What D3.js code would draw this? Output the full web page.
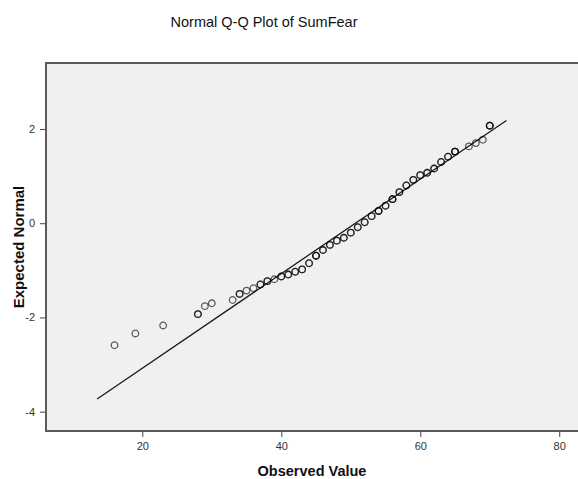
<!DOCTYPE html>
<html>
<head>
<meta charset="utf-8">
<script src="https://cdn.jsdelivr.net/npm/d3@7"></script>
<style>
body { margin: 0; background: #fff; }
text { font-family: "Liberation Sans", Arial, sans-serif; }
</style>
</head>
<body>
<svg id="chart" width="578" height="479"></svg>
<script>
var observed = [16, 19, 23, 28, 29, 30, 33, 34, 35, 36, 37, 38, 39, 40, 41, 42, 43, 44, 45, 46, 47, 48,
    49, 50, 51, 52, 53, 54, 55, 56, 57, 58, 59, 60, 61, 62, 63, 64, 65, 67, 68, 69, 70]
var expected = [-2.59, -2.34, -2.17, -1.93, -1.76, -1.70, -1.63, -1.50, -1.43, -1.38, -1.30, -1.23, -1.19,
    -1.13, -1.09, -1.03, -0.98, -0.85, -0.69, -0.57, -0.46, -0.37, -0.31, -0.20, -0.085, 0.02, 0.15, 0.26,
    0.37, 0.51, 0.66, 0.80, 0.92, 1.02, 1.07, 1.16, 1.30, 1.41, 1.52, 1.63, 1.70, 1.77, 2.07]
// cases sharing the same value, drawn on top of each other
var cases = [1, 1, 1, 2, 1, 1, 1, 2, 1, 1, 2, 2, 1, 2, 2, 2, 2, 2, 3, 2, 2, 2, 2, 2, 2, 2, 2, 3, 2, 3, 2,
    2, 2, 2, 2, 2, 2, 2, 3, 1, 1, 1, 3]
var lineX = [13.5, 72.4]
var lineY = [-3.73, 2.18]
var xTicks = [20, 40, 60, 80]
var yTicks = [-4, -2, 0, 2]

var layout = { left: 46, right: 578, top: 63, bottom: 431 }

var svg = d3.select('#chart')

var x = d3.scaleLinear().domain([6.14, 82.7]).range([layout.left, layout.right])
var y = d3.scaleLinear().domain([-4.41, 3.40]).range([layout.bottom, layout.top])

svg.append('text')
    .attr('x', 264)
    .attr('y', 27)
    .attr('text-anchor', 'middle')
    .attr('font-size', 14.5)
    .attr('fill', '#111')
    .text('Normal Q-Q Plot of SumFear')

svg.append('rect')
    .attr('x', layout.left)
    .attr('y', layout.top)
    .attr('width', layout.right - layout.left)
    .attr('height', layout.bottom - layout.top)
    .attr('fill', '#f0f0f0')

var plainFormat = function (d) { return String(d) } // keep the ascii hyphen

var xAxis = svg.append('g')
    .attr('transform', 'translate(0, ' + layout.bottom + ')')
    .call(d3.axisBottom(x).tickValues(xTicks).tickFormat(plainFormat).tickSize(6).tickPadding(5).tickSizeOuter(0))

var yAxis = svg.append('g')
    .attr('transform', 'translate(' + layout.left + ', 0)')
    .call(d3.axisLeft(y).tickValues(yTicks).tickFormat(plainFormat).tickSize(6).tickPadding(5).tickSizeOuter(0))

;[xAxis, yAxis].forEach(function (axis) {
    axis.select('.domain').remove()
    axis.attr('font-family', null)
    axis.selectAll('.tick line').attr('stroke', '#444')
    axis.selectAll('.tick text').attr('font-size', 11).attr('fill', '#333')
})

svg.append('path')
    .attr('d', 'M' + layout.right + ',' + layout.top + 'H' + layout.left + 'V' + layout.bottom + 'H' + layout.right)
    .attr('fill', 'none')
    .attr('stroke', '#5a5a5a')
    .attr('stroke-width', 2)

svg.append('line')
    .attr('x1', x(lineX[0]))
    .attr('y1', y(lineY[0]))
    .attr('x2', x(lineX[1]))
    .attr('y2', y(lineY[1]))
    .attr('stroke', '#1a1a1a')
    .attr('stroke-width', 1.3)

var points = svg.append('g').selectAll('g')
    .data(observed)
    .enter()
    .append('g')
    .attr('transform', function (d, i) { return 'translate(' + x(d) + ', ' + y(expected[i]) + ')' })

points.selectAll('circle')
    .data(function (d, i) { return d3.range(cases[i]) })
    .enter()
    .append('circle')
    .attr('r', 3.3)
    .attr('fill', 'none')
    .attr('stroke', '#000')
    .attr('stroke-opacity', 0.62)
    .attr('stroke-width', 1.3)

svg.append('text')
    .attr('x', (layout.left + layout.right) / 2)
    .attr('y', 476)
    .attr('text-anchor', 'middle')
    .attr('font-size', 14.5)
    .attr('font-weight', 'bold')
    .attr('fill', '#111')
    .text('Observed Value')

svg.append('text')
    .attr('transform', 'translate(24, ' + (layout.top + layout.bottom) / 2 + ') rotate(-90)')
    .attr('text-anchor', 'middle')
    .attr('font-size', 15)
    .attr('font-weight', 'bold')
    .attr('fill', '#111')
    .text('Expected Normal')
</script>
</body>
</html>
